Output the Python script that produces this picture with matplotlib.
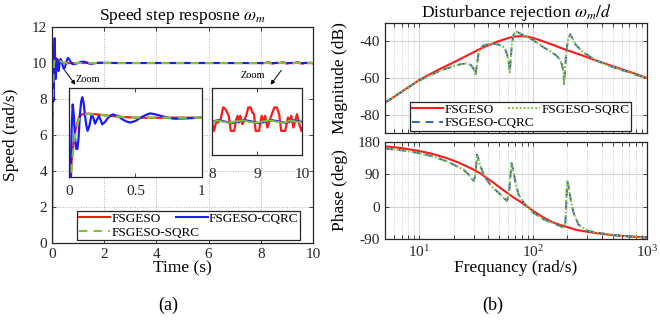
import matplotlib
matplotlib.use("Agg")
import matplotlib.pyplot as plt
from matplotlib.ticker import LogLocator, NullFormatter

plt.rcParams['font.family'] = ['Liberation Serif', 'DejaVu Serif']
plt.rcParams['mathtext.fontset'] = 'stix'
plt.rcParams['axes.unicode_minus'] = False

# ---- (a) speed step response ----
# transient part, read from the 0..1 s zoom
red_t = [0, 0.01, 0.02, 0.03, 0.04, 0.05, 0.06, 0.07, 0.08, 0.1, 0.12, 0.15, 0.2, 0.25,
         0.3, 0.35, 0.4, 0.5, 0.6, 0.8, 1.0, 2.0, 4.0, 6.0]
red_v = [0, 4.8, 7.1, 7.9, 8.66, 9.2, 9.55, 9.85, 10.1, 10.22, 10.26, 10.27, 10.23, 10.18,
         10.13, 10.09, 10.05, 10.0, 9.99, 10.0, 10.0, 10.0, 10.0, 10.0]
green_t = [0, 0.01, 0.02, 0.03, 0.04, 0.05, 0.06, 0.07, 0.08, 0.1, 0.12, 0.15, 0.2, 0.25,
           0.3, 0.35, 0.4, 0.5, 0.6, 0.8, 1.0, 2.0, 4.0, 6.0]
green_v = [0, 4.4, 6.8, 7.6, 8.4, 9.0, 9.4, 9.75, 10.0, 10.18, 10.23, 10.25, 10.22, 10.17,
           10.12, 10.08, 10.05, 10.01, 10.0, 10.0, 10.0, 10.0, 10.0, 10.0]
blue_t = [0, 0.006, 0.012, 0.02, 0.028, 0.036, 0.045, 0.055, 0.063, 0.072, 0.082, 0.092,
          0.10, 0.11, 0.12, 0.13, 0.14, 0.155, 0.17, 0.183, 0.196, 0.21, 0.226, 0.24, 0.25,
          0.27, 0.29, 0.31, 0.33, 0.37, 0.40, 0.43, 0.46, 0.50, 0.53, 0.57, 0.61, 0.66, 0.70,
          0.75, 0.8, 0.9, 1.0, 1.1, 1.2, 1.3, 1.4, 1.5, 1.6, 1.8, 2.5, 4.0, 6.0]
blue_v = [0, 2.5, 6.0, 9.2, 10.89, 10.2, 8.7, 7.9, 7.88, 8.6, 10.2, 11.1,
          11.38, 11.0, 10.2, 9.5, 9.11, 9.5, 10.22, 10.0, 9.6, 9.85, 10.11, 9.8, 9.55,
          9.7, 9.95, 10.12, 10.22, 10.1, 9.9, 9.75, 9.67, 9.78, 9.95, 10.15, 10.29, 10.2, 10.1,
          9.98, 9.93, 9.96, 10.0, 10.06, 10.08, 10.05, 9.98, 9.95, 9.98, 10.02, 10.0, 10.0, 10.0]

# steady state ripple, read from the 8..10 s zoom
red_ss_t = [8.0, 8.045, 8.097, 8.134, 8.194, 8.246, 8.299, 8.336, 8.373, 8.418, 8.493, 8.53,
            8.567, 8.597, 8.627, 8.672, 8.716, 8.769, 8.806, 8.858, 8.896, 8.933, 8.97, 9.045,
            9.104, 9.142, 9.179, 9.231, 9.269, 9.328, 9.388, 9.44, 9.493, 9.537, 9.627, 9.687,
            9.716, 9.761, 9.806, 9.851, 9.888, 9.94, 9.985, 10.0]
red_ss_v = [9.997, 9.972, 10.002, 9.997, 10.007, 10.042, 10.037, 10.027, 10.017, 9.972, 9.972, 10.002,
            10.017, 9.997, 10.017, 9.992, 10.002, 10.022, 10.042, 10.042, 10.027, 10.022, 9.972, 9.972,
            10.017, 9.997, 10.017, 9.982, 9.997, 10.022, 10.042, 10.042, 10.022, 9.972, 9.972, 10.012,
            9.997, 10.017, 9.982, 10.002, 10.022, 9.992, 9.972, 9.98]
blue_ss_t = [8.0, 8.13, 8.28, 8.43, 8.58, 8.73, 8.88, 9.03, 9.18, 9.33, 9.48, 9.63, 9.78, 9.93, 10.0]
blue_ss_v = [9.999, 10.004, 10.0, 9.995, 10.0, 10.004, 10.0, 9.995, 10.0, 10.004, 10.0, 9.996,
             10.004, 10.0, 9.999]
green_ss_t = [8.0, 8.12, 8.26, 8.4, 8.55, 8.7, 8.85, 9.0, 9.15, 9.3, 9.45, 9.6, 9.75, 9.9, 10.0]
green_ss_v = [9.998, 10.003, 9.999, 9.996, 10.001, 10.003, 9.998, 9.996, 10.001, 10.003, 9.999,
              9.996, 10.003, 9.999, 9.997]

# ---- (b) disturbance rejection Bode ----
red_f = [5, 6, 7.2, 8.5, 10, 12, 14.2, 17, 20, 24, 28, 33, 38, 44, 50, 57, 64, 72, 80, 90,
         100, 115, 130, 150, 175, 200, 240, 290, 340, 400, 480, 560, 660, 780, 900, 1000]
red_mag = [-73.5, -70.3, -67.0, -64.0, -61.1, -58.4, -56.0, -53.6, -51.5, -49.0, -46.9, -44.6,
           -42.8, -41.2, -39.9, -38.7, -37.8, -37.3, -37.2, -37.5, -38.2, -39.4, -40.6, -42.0,
           -43.6, -44.9, -46.6, -48.4, -50.0, -51.5, -53.2, -54.6, -56.1, -57.6, -59.0, -60.0]
red_ph_f = [5, 7, 10, 13, 17.5, 22, 26.2, 30, 34.2, 39, 44.7, 51, 58.7, 67, 77, 88, 100, 123,
            145, 173, 205, 242, 300, 364, 460, 582, 750, 1000]
red_ph = [168, 163, 155, 147, 135, 123, 112, 103, 93, 80, 67, 53, 39, 26, 14, 1, -12, -30,
          -42, -51, -58, -65, -70, -74, -78, -81, -83.5, -85.5]

sqrc_f = [5, 6, 7.2, 8.5, 10, 12, 14.2, 17, 20, 23, 26, 28.5, 30, 31.2, 32.2, 33.2, 34.5, 36.5,
          40, 45, 50, 54, 57, 59.5, 61.5, 62.4, 63.5, 65, 67, 69.9, 74, 82, 100, 123, 145, 161,
          172, 180, 185, 187, 190, 196, 203, 212, 222, 235, 255, 277, 320, 364, 450, 545, 700,
          850, 1000]
sqrc_mag = [-73.5, -70.3, -67.1, -64.2, -61.4, -59.0, -56.9, -55.0, -53.6, -52.5, -52.0, -53.0,
            -55.0, -58.7, -52.0, -46.5, -44.0, -42.3, -41.6, -41.4, -41.8, -42.6, -44.5, -48.0,
            -53.0, -56.9, -50.0, -42.0, -37.0, -34.4, -35.2, -36.8, -39.3, -43.2, -45.8, -47.9,
            -50.0, -53.0, -57.0, -63.2, -57.0, -45.0, -39.0, -36.2, -38.5, -41.6, -44.0, -46.1,
            -48.6, -50.6, -53.0, -54.8, -57.0, -58.8, -60.1]
sqrc_ph_f = [5, 7, 10, 13.5, 17.5, 21, 24.5, 27, 29, 30.2, 31.2, 32.2, 33.2, 34.2, 36, 37.6, 41,
             44.7, 50, 55, 58.7, 61, 63, 64.5, 66, 69.6, 74.4, 80, 85, 100, 123, 161, 184, 192,
             196, 199.5, 205, 211, 226, 250, 300, 390, 582, 1000]
sqrc_ph = [162, 157, 149, 139, 126, 114, 103, 90, 77, 72, 90, 145, 130, 116, 97, 82, 66,
           52, 38, 25, 16, 30, 80, 122, 108, 71, 34, 18, 6, -16.5, -35, -50, -58, -45,
           20, 70, 55, 29.5, -16.5, -50, -67, -74, -81, -86]
# CQRC is on top of SQRC in the Bode plot
cqrc_f, cqrc_mag = sqrc_f, sqrc_mag
cqrc_ph_f, cqrc_ph = sqrc_ph_f, sqrc_ph

RED = '#ff1a1a'
BLUE = '#1a1aff'
GREEN = '#80c040'
BLUE2 = '#3a5fb0'
EDGE = '#262626'


def style_axes(ax):
    ax.tick_params(direction='in', top=True, right=True, labelsize=11, colors=EDGE,
                   length=3, width=0.6, which='both')
    for s in ax.spines.values():
        s.set_color(EDGE)
        s.set_linewidth(0.9)


fig = plt.figure(figsize=(6.6, 3.22), dpi=100)

# main step response
ax = fig.add_axes([0.0788, 0.2453, 0.3955, 0.6708])
t_red = red_t + red_ss_t
v_red = red_v + red_ss_v
t_blue = blue_t + blue_ss_t
v_blue = blue_v + blue_ss_v
t_green = green_t + green_ss_t
v_green = green_v + green_ss_v
l_red, = ax.plot(t_red, v_red, color=RED, lw=1.5, label='FSGESO')
l_blue, = ax.plot(t_blue, v_blue, color=BLUE, lw=1.5, label='FSGESO-CQRC')
l_green, = ax.plot(t_green, v_green, color=GREEN, lw=1.5, ls=(0, (4, 3)), label='FSGESO-SQRC')
ax.set_xlim(0, 10)
ax.set_ylim(0, 12)
ax.set_xticks([0, 2, 4, 6, 8, 10])
ax.set_yticks([0, 2, 4, 6, 8, 10, 12])
ax.grid(True, ls=':', color='#b0b0b0', lw=0.7)
style_axes(ax)
ax.set_xlabel('Time (s)', fontsize=12.5, labelpad=0)
ax.set_ylabel('Speed (rad/s)', fontsize=12.5)
ax.yaxis.set_label_coords(-0.125, 0.5)
ax.set_title(r'Speed step resposne $\omega_m$', fontsize=12.5, pad=5)
leg = ax.legend(handles=[l_red, l_green, l_blue], ncol=2, loc='upper left',
                bbox_to_anchor=(0.069, 0.032, 0.908, 0.148), mode='expand',
                fontsize=9.5, frameon=True, fancybox=False, edgecolor=EDGE, framealpha=1,
                borderpad=0.15, handlelength=2.4, handletextpad=0.1, labelspacing=0.1,
                columnspacing=0.5)
leg.get_frame().set_linewidth(0.9)

ax.annotate('', xy=(0.96, 8.67), xytext=(0.42, 9.72),
            arrowprops=dict(arrowstyle='-|>', color='black', lw=0.7, mutation_scale=6))
ax.text(1.38, 9.11, 'Zoom', fontsize=7.5, ha='center', va='center')
ax.annotate('', xy=(8.31, 8.67), xytext=(8.85, 9.72),
            arrowprops=dict(arrowstyle='-|>', color='black', lw=0.7, mutation_scale=6))
ax.text(7.70, 9.28, 'Zoom', fontsize=7.5, ha='center', va='center')

# inset 0..1 s
ins1 = fig.add_axes([0.1045, 0.4503, 0.2015, 0.2764])
ins1.plot(red_t, red_v, color=RED, lw=1.6)
ins1.plot(blue_t, blue_v, color=BLUE, lw=1.6)
ins1.plot(green_t, green_v, color=GREEN, lw=1.6, ls=(0, (4, 3)))
ins1.set_xlim(0, 1)
ins1.set_ylim(6, 12)
ins1.set_xticks([0, 0.5, 1])
ins1.set_xticklabels(['0', '0.5', '1'])
ins1.set_yticks([])
style_axes(ins1)
ins1.tick_params(axis='x', pad=6)

# inset 8..10 s
ins2 = fig.add_axes([0.3212, 0.5186, 0.1364, 0.2081])
ins2.plot(red_ss_t, red_ss_v, color=RED, lw=1.6)
ins2.plot(blue_ss_t, blue_ss_v, color=BLUE, lw=1.6)
ins2.plot(green_ss_t, green_ss_v, color=GREEN, lw=1.4)
ins2.set_xlim(8, 10)
ins2.set_ylim(9.9, 10.1)
ins2.set_xticks([8, 9, 10])
ins2.set_yticks([])
style_axes(ins2)
ins2.tick_params(axis='x', pad=9)

# Bode magnitude / phase
axm = fig.add_axes([0.5833, 0.587, 0.397, 0.3416])
axp = fig.add_axes([0.5833, 0.2578, 0.397, 0.3012])
m_red, = axm.semilogx(red_f, red_mag, color=RED, lw=1.5, label='FSGESO')
m_cq, = axm.semilogx(cqrc_f, cqrc_mag, color=BLUE2, lw=1.4, ls=(0, (4, 3)), label='FSGESO-CQRC')
m_sq, = axm.semilogx(sqrc_f, sqrc_mag, color=GREEN, lw=1.4, ls=(0, (1, 1)), label='FSGESO-SQRC')
axp.semilogx(red_ph_f, red_ph, color=RED, lw=1.5)
axp.semilogx(cqrc_ph_f, cqrc_ph, color=BLUE2, lw=1.4, ls=(0, (4, 3)))
axp.semilogx(sqrc_ph_f, sqrc_ph, color=GREEN, lw=1.4, ls=(0, (1, 1)))

for a in (axm, axp):
    a.set_xlim(5, 1000)
    a.xaxis.set_major_locator(LogLocator(base=10, numticks=10))
    a.xaxis.set_minor_locator(LogLocator(base=10, subs=range(2, 10), numticks=20))
    a.grid(True, which='major', color='#d4d4d4', lw=0.8)
    a.grid(True, which='minor', ls=':', color='#c0c0c0', lw=0.6)
    style_axes(a)
axm.xaxis.set_major_formatter(NullFormatter())
axm.xaxis.set_minor_formatter(NullFormatter())
axp.xaxis.set_minor_formatter(NullFormatter())

axm.set_ylim(-90, -30)
axm.set_yticks([-80, -60, -40])
axp.set_ylim(-90, 180)
axp.set_yticks([-90, 0, 90, 180])
axm.set_ylabel('Magnitude (dB)', fontsize=12.5)
axp.set_ylabel('Phase (deg)', fontsize=12.5)
axm.yaxis.set_label_coords(-0.14, 0.5)
axp.yaxis.set_label_coords(-0.14, 0.5)
axp.set_xlabel('Frequancy (rad/s)', fontsize=12.5, labelpad=0)
axm.set_title(r'Disturbance rejection $\omega_m/d$', fontsize=12.5, pad=3)
leg2 = axm.legend(handles=[m_red, m_cq, m_sq], ncol=2, loc='upper left',
                  bbox_to_anchor=(0.069, 0.045, 0.897, 0.3), mode='expand',
                  fontsize=9.5, frameon=True, fancybox=False, edgecolor=EDGE, framealpha=1,
                  borderpad=0.15, handlelength=2.4, handletextpad=0.1, labelspacing=0.1,
                  columnspacing=0.5)
leg2.get_frame().set_linewidth(0.9)

fig.text(0.2545, 0.053, '(a)', fontsize=13, ha='center', va='center')
fig.text(0.747, 0.053, '(b)', fontsize=13, ha='center', va='center')

fig.savefig('out.png', dpi=100)
